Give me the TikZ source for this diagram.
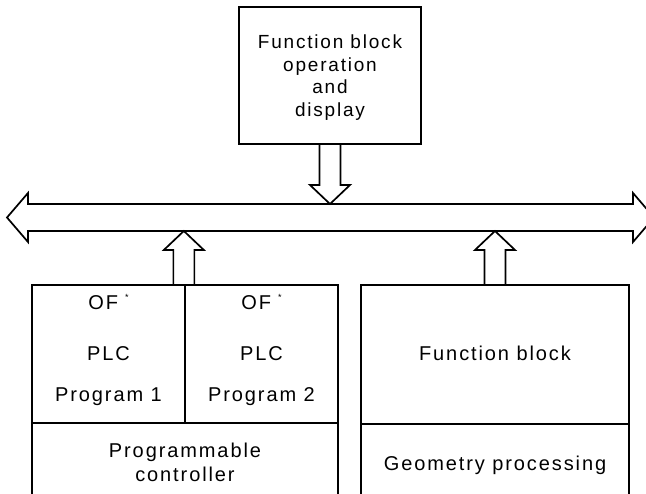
\documentclass[tikz,border=0pt]{standalone}
\usepackage{fontspec}
\setmainfont{Liberation Sans}
\newfontfamily\lblfont[LetterSpace=9.5]{Liberation Sans}
\usetikzlibrary{calc}

\tikzset{
  every picture/.style={x=1pt,y=-1pt},
  frame/.style={draw, line width=1.7pt, inner sep=0pt},
  outline/.style={line width=1.7pt, line join=miter},
  lbl/.style={inner sep=0pt, anchor=base, font=\lblfont\fontsize{20}{24}\selectfont},
  toplbl/.style={inner sep=0pt, anchor=base, font=\lblfont\fontsize{19}{22.5}\selectfont}
}

% hollow block arrow from #1 to the tip #2 (vertical)
\newcommand\hollowarrow[2]{%
  \draw[outline] let \p1=#1, \p2=#2, \n1={sign(\y2-\y1)} in
    (\x1-10.5pt,\y1) -- (\x1-10.5pt,\y2-\n1*19pt) -- (\x1-20pt,\y2-\n1*19pt)
    -- (\x1,\y2) -- (\x1+20pt,\y2-\n1*19pt) -- (\x1+10.5pt,\y2-\n1*19pt)
    -- (\x1+10.5pt,\y1);}

\begin{document}
\begin{tikzpicture}
  \useasboundingbox (0,0) rectangle (646,494);
  \clip (0,0) rectangle (646,494);

  % operating unit
  \node[frame, minimum width=182pt, minimum height=137pt] (top) at (330,75.5) {};
  \node[toplbl] (t1) at (330,49) {Function block};
  \node[toplbl] (t2) at (330,71.5) {operation};
  \node[toplbl] (t3) at (330,94) {and};
  \node[toplbl] (t4) at (330,116.5) {display};

  % bus with arrow heads at both ends
  \coordinate (busL) at (7,217.5);
  \coordinate (busR) at (654,217.5);
  \coordinate (bustop) at (330,204);
  \coordinate (busbot) at (330,231);
  \draw[outline]
    (busL) -- (28,193) -- (28,204) -- (633,204) -- (633,193) -- (busR)
    -- (633,242) -- (633,231) -- (28,231) -- (28,242) -- cycle;

  % programmable controller
  \node[frame, minimum width=153pt, minimum height=138pt] (p1) at (108.5,354) {};
  \node[frame, minimum width=153pt, minimum height=138pt] (p2) at (261.5,354) {};
  \node[frame, minimum width=306pt, minimum height=87pt] (plc) at (185,466.5) {};

  \node[lbl] (of1) at (108.5,310) {OF\hspace{7pt}\raisebox{9pt}{\fontsize{9}{9}\selectfont *}};
  \node[lbl] (plc1) at (108.5,361) {PLC};
  \node[lbl] (prg1) at (108.5,402) {Program 1};
  \node[lbl] (of2) at (261.5,310) {OF\hspace{7pt}\raisebox{9pt}{\fontsize{9}{9}\selectfont *}};
  \node[lbl] (plc2) at (261.5,361) {PLC};
  \node[lbl] (prg2) at (261.5,402) {Program 2};
  \node[lbl] (pc1) at (185,458) {Programmable};
  \node[lbl] (pc2) at (185,482) {controller};

  % NC side
  \node[frame, minimum width=268pt, minimum height=139pt] (fb) at (495,354.5) {};
  \node[frame, minimum width=268pt, minimum height=86pt] (geo) at (495,467) {};
  \node[lbl] (fbl) at (495,361) {Function block};
  \node[lbl] (geol) at (495,471) {Geometry processing};

  % block arrows to and from the bus
  \coordinate (plcport) at ([xshift=-2pt]p1.north east);
  \hollowarrow{(top.south)}{(top.south |- bustop)}
  \hollowarrow{(plcport)}{(plcport |- busbot)}
  \hollowarrow{(fb.north)}{(fb.north |- busbot)}
\end{tikzpicture}
\end{document}
